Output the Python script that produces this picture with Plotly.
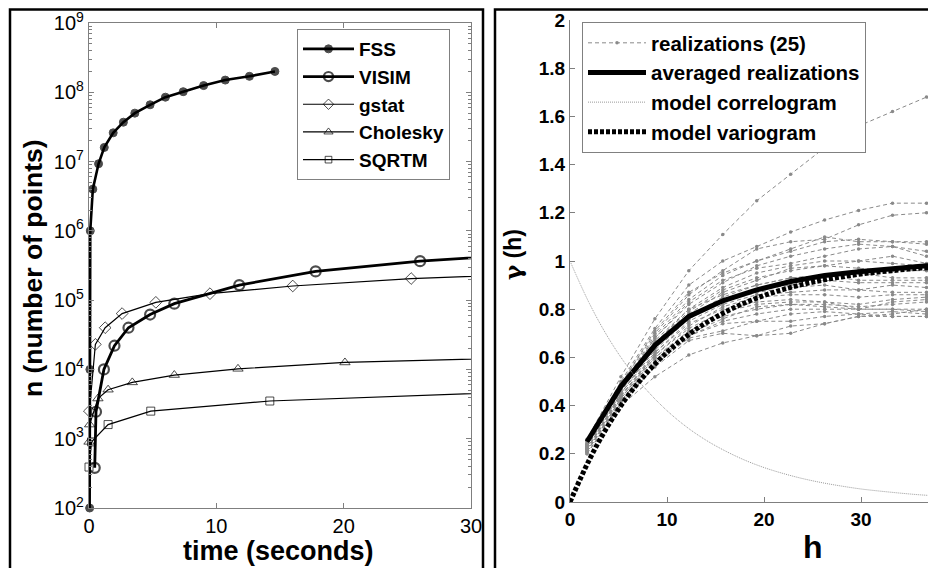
import plotly.graph_objects as go

# ---------------- data: left panel (time vs number of points) ----------------
fss_t = [0.05, 0.07, 0.1, 0.3, 0.75, 1.2, 1.9, 2.7, 3.6, 4.8, 6.0, 7.4, 9.0, 10.7, 12.6, 14.6]
fss_n = [1e2, 1e4, 1e6, 4e6, 9.3e6, 1.6e7, 2.6e7, 3.7e7, 5e7, 6.6e7, 8.5e7, 1.02e8, 1.25e8, 1.5e8, 1.7e8, 2.0e8]

visim_t = [0.45, 0.55, 1.17, 2.0, 3.1, 4.8, 6.7, 11.8, 17.8, 26.0, 36.0]
visim_n = [380, 2450, 1e4, 2.2e4, 4e4, 6.2e4, 8.9e4, 1.65e5, 2.6e5, 3.65e5, 4.8e5]

gstat_t = [0.03, 0.5, 1.27, 2.6, 5.25, 9.5, 16.0, 25.3, 36.0]
gstat_n = [2500, 2.3e4, 4e4, 6.4e4, 9.3e4, 1.24e5, 1.6e5, 2.05e5, 2.4e5]

chol_t = [0.0, 0.05, 0.7, 1.5, 3.4, 6.7, 11.7, 20.1, 36.0]
chol_n = [900, 1600, 3.8e3, 5.1e3, 6.5e3, 8.3e3, 1.02e4, 1.26e4, 1.5e4]

sqrtm_t = [0.0, 0.2, 1.5, 4.85, 14.2, 36.0]
sqrtm_n = [390, 900, 1.6e3, 2.5e3, 3.5e3, 4.9e3]

left_xticks = [0, 10, 20, 30]
left_yticks = [1e2, 1e3, 1e4, 1e5, 1e6, 1e7, 1e8, 1e9]
left_yticktext = ["10<sup>%d</sup>" % k for k in range(2, 10)]

# ---------------- data: right panel (variograms) ----------------
lags = [1.75, 5.25, 8.75, 12.25, 15.75, 19.25, 22.75, 26.25, 29.75, 33.25, 36.75, 40.25]
realizations = [
    [0.26, 0.52, 0.76, 0.96, 1.11, 1.25, 1.36, 1.47, 1.56, 1.62, 1.68, 1.70],
    [0.25, 0.50, 0.72, 0.90, 1.00, 1.06, 1.12, 1.17, 1.21, 1.24, 1.24, 1.22],
    [0.24, 0.49, 0.70, 0.86, 0.96, 1.05, 1.08, 1.09, 1.15, 1.19, 1.20, 1.19],
    [0.25, 0.49, 0.71, 0.87, 0.95, 1.00, 1.05, 1.10, 1.08, 1.08, 1.07, 1.06],
    [0.24, 0.48, 0.69, 0.84, 0.94, 1.00, 1.04, 1.08, 1.09, 1.08, 1.08, 1.07],
    [0.24, 0.48, 0.68, 0.82, 0.91, 0.98, 1.02, 1.05, 1.07, 1.06, 1.04, 1.02],
    [0.23, 0.47, 0.68, 0.83, 0.92, 0.97, 0.99, 1.02, 1.05, 1.06, 1.02, 1.00],
    [0.24, 0.47, 0.67, 0.80, 0.89, 0.95, 0.98, 1.00, 1.00, 1.02, 0.99, 0.98],
    [0.23, 0.46, 0.66, 0.79, 0.88, 0.93, 0.96, 0.98, 1.00, 0.99, 0.98, 0.97],
    [0.23, 0.46, 0.65, 0.78, 0.87, 0.92, 0.97, 0.98, 0.97, 0.96, 0.96, 0.95],
    [0.23, 0.46, 0.66, 0.80, 0.86, 0.90, 0.93, 0.94, 0.95, 0.93, 0.93, 0.92],
    [0.22, 0.45, 0.64, 0.77, 0.85, 0.90, 0.93, 0.94, 0.92, 0.92, 0.92, 0.91],
    [0.23, 0.45, 0.63, 0.76, 0.84, 0.88, 0.90, 0.92, 0.91, 0.91, 0.91, 0.90],
    [0.22, 0.45, 0.64, 0.76, 0.83, 0.87, 0.89, 0.90, 0.88, 0.90, 0.89, 0.88],
    [0.22, 0.44, 0.62, 0.75, 0.82, 0.86, 0.87, 0.88, 0.88, 0.87, 0.87, 0.86],
    [0.22, 0.44, 0.61, 0.73, 0.81, 0.85, 0.86, 0.86, 0.85, 0.86, 0.86, 0.86],
    [0.22, 0.44, 0.62, 0.74, 0.80, 0.83, 0.84, 0.83, 0.82, 0.84, 0.85, 0.85],
    [0.21, 0.43, 0.61, 0.72, 0.79, 0.82, 0.83, 0.83, 0.80, 0.83, 0.84, 0.84],
    [0.22, 0.43, 0.60, 0.71, 0.77, 0.80, 0.82, 0.82, 0.81, 0.82, 0.83, 0.83],
    [0.21, 0.43, 0.60, 0.70, 0.76, 0.81, 0.82, 0.81, 0.80, 0.80, 0.80, 0.80],
    [0.21, 0.42, 0.59, 0.69, 0.75, 0.78, 0.80, 0.80, 0.80, 0.80, 0.79, 0.79],
    [0.21, 0.42, 0.58, 0.69, 0.74, 0.75, 0.78, 0.79, 0.78, 0.79, 0.78, 0.78],
    [0.21, 0.41, 0.57, 0.68, 0.71, 0.75, 0.75, 0.77, 0.78, 0.77, 0.77, 0.77],
    [0.20, 0.41, 0.56, 0.67, 0.70, 0.69, 0.70, 0.74, 0.77, 0.78, 0.80, 0.81],
    [0.20, 0.40, 0.52, 0.61, 0.66, 0.69, 0.73, 0.74, 0.77, 0.77, 0.77, 0.77],
]
averaged = [0.25, 0.48, 0.65, 0.77, 0.835, 0.88, 0.915, 0.94, 0.955, 0.97, 0.98, 0.985]

model_h = [0, 2, 4, 6, 8, 10, 12, 14, 16, 18, 20, 22, 24, 26, 28, 30, 32, 34, 36, 38, 40]
model_variogram = [0.0, 0.176, 0.322, 0.442, 0.540, 0.621, 0.688, 0.743, 0.788, 0.826, 0.857,
                   0.882, 0.903, 0.920, 0.934, 0.946, 0.955, 0.963, 0.970, 0.975, 0.980]
model_correlogram = [1.0, 0.824, 0.678, 0.558, 0.460, 0.379, 0.312, 0.257, 0.212, 0.174, 0.143,
                     0.118, 0.097, 0.080, 0.066, 0.054, 0.045, 0.037, 0.030, 0.025, 0.020]

right_xticks = [0, 10, 20, 30]

# ---------------- figure ----------------
# the page places the plot 8px from the top-left corner of the window
OFF = 8
W, H = 936 - OFF, 568 - OFF
FONT = "Liberation Sans, Arial, sans-serif"
AXGREY = "#7f7f7f"


def fx(p):
    return (p - OFF) / W


def fy(p):
    return 1 - (p - OFF) / H


fig = go.Figure()

left_series = [
    ("FSS", fss_t, fss_n, "circle", 8, 2.6, 1),
    ("VISIM", visim_t, visim_n, "circle-open", 10, 2.8, 2.2),
    ("gstat", gstat_t, gstat_n, "diamond-open", 9, 1.2, 1),
    ("Cholesky", chol_t, chol_n, "triangle-up-open", 9, 1.2, 1),
    ("SQRTM", sqrtm_t, sqrtm_n, "square-open", 8, 1.2, 1),
]
for name, t, n, sym, size, lw, mlw in left_series:
    sizes = [size if v <= 30 else 0 for v in t]
    fig.add_trace(go.Scatter(
        x=t, y=n, mode="lines+markers", name=name,
        line=dict(color="black", width=lw),
        marker=dict(symbol=sym, size=sizes, color="black", line=dict(color="black", width=mlw)),
        cliponaxis=False, xaxis="x", yaxis="y", legend="legend",
    ))

for i, r in enumerate(realizations):
    fig.add_trace(go.Scatter(
        x=lags, y=r, mode="lines+markers", name="realizations (25)",
        line=dict(color="#8a8a8a", width=1, dash="4px,3px"),
        marker=dict(symbol="circle", size=3.5, color="#8a8a8a"),
        showlegend=(i == 0),
        xaxis="x2", yaxis="y2", legend="legend2",
    ))

fig.add_trace(go.Scatter(
    x=lags, y=averaged, mode="lines", name="averaged realizations",
    line=dict(color="black", width=5),
    xaxis="x2", yaxis="y2", legend="legend2",
))
fig.add_trace(go.Scatter(
    x=model_h, y=model_correlogram, mode="lines", name="model correlogram",
    line=dict(color="#9a9a9a", width=1, dash="1px,1px", shape="spline"),
    xaxis="x2", yaxis="y2", legend="legend2",
))
fig.add_trace(go.Scatter(
    x=model_h, y=model_variogram, mode="lines", name="model variogram",
    line=dict(color="black", width=5, dash="4px,2px", shape="spline"),
    xaxis="x2", yaxis="y2", legend="legend2",
))

axis_common = dict(showgrid=False, zeroline=False, showline=True, linecolor=AXGREY, linewidth=1.2,
                   ticks="inside", tickcolor=AXGREY, ticklen=5, tickwidth=1, automargin=False)

fig.update_layout(
    width=W, height=H,
    margin=dict(l=0, r=0, t=0, b=0, pad=0, autoexpand=False),
    paper_bgcolor="white", plot_bgcolor="white",
    font=dict(family=FONT, color="black"),
    xaxis=dict(domain=[fx(89), fx(471)], range=[0, 30], tickvals=left_xticks,
               mirror="ticks", tickfont=dict(size=20, family=FONT, color="black"),
               anchor="y", **axis_common),
    yaxis=dict(domain=[fy(508), fy(23)], type="log", range=[2, 9], tickvals=left_yticks,
               ticktext=left_yticktext, mirror="ticks",
               tickfont=dict(size=20, family=FONT, color="black"),
               minor=dict(ticks="inside", ticklen=3, tickcolor=AXGREY, dtick="D1", showgrid=False),
               anchor="x", **axis_common),
    xaxis2=dict(domain=[fx(570), 1.0], range=[0, (936 - 570) / 9.7], tickvals=right_xticks,
                tickfont=dict(size=19, family=FONT, color="black", weight="bold"),
                anchor="y2", **axis_common),
    yaxis2=dict(domain=[fy(502), fy(20)], range=[0, 2], dtick=0.2,
                tickfont=dict(size=19, family=FONT, color="black", weight="bold"),
                anchor="x2", **axis_common),
    legend=dict(x=fx(297), y=fy(29), xanchor="left", yanchor="top",
                bgcolor="white", bordercolor="#808080", borderwidth=1,
                font=dict(size=19, family=FONT, color="black", weight="bold"),
                traceorder="normal", itemwidth=51),
    legend2=dict(x=fx(582), y=fy(22), xanchor="left", yanchor="top",
                 bgcolor="white", bordercolor="#808080", borderwidth=1,
                 font=dict(size=20.5, family=FONT, color="black", weight="bold"),
                 traceorder="normal", itemwidth=58),
)

# axis titles
fig.add_annotation(text="time (seconds)", x=fx(278), y=fy(551), xref="paper", yref="paper",
                   xanchor="center", yanchor="middle",
                   showarrow=False, font=dict(size=27, family=FONT, weight="bold"))
fig.add_annotation(text="n (number of points)", x=fx(33), y=fy(268), xref="paper", yref="paper",
                   xanchor="center", yanchor="middle",
                   showarrow=False, textangle=-90, font=dict(size=26.5, family=FONT, weight="bold"))
fig.add_annotation(text="h", x=fx(813), y=fy(547), xref="paper", yref="paper",
                   xanchor="center", yanchor="middle",
                   showarrow=False, font=dict(size=32, family=FONT, weight="bold"))
fig.add_annotation(text="<span style=\"font-family:'DejaVu Serif'\">γ</span> (h)",
                   x=fx(512), y=fy(255), xref="paper", yref="paper",
                   xanchor="center", yanchor="middle",
                   showarrow=False, textangle=-90, font=dict(size=23, family=FONT, weight="bold"))

# panel borders
fig.add_shape(type="rect", xref="paper", yref="paper", x0=fx(10), x1=fx(483), y0=fy(9.5), y1=-0.02,
              line=dict(color="black", width=2.5), layer="above")
fig.add_shape(type="rect", xref="paper", yref="paper", x0=fx(495), x1=1.02, y0=fy(9.5), y1=-0.02,
              line=dict(color="black", width=2.5), layer="above")

fig.write_html("out.html")
